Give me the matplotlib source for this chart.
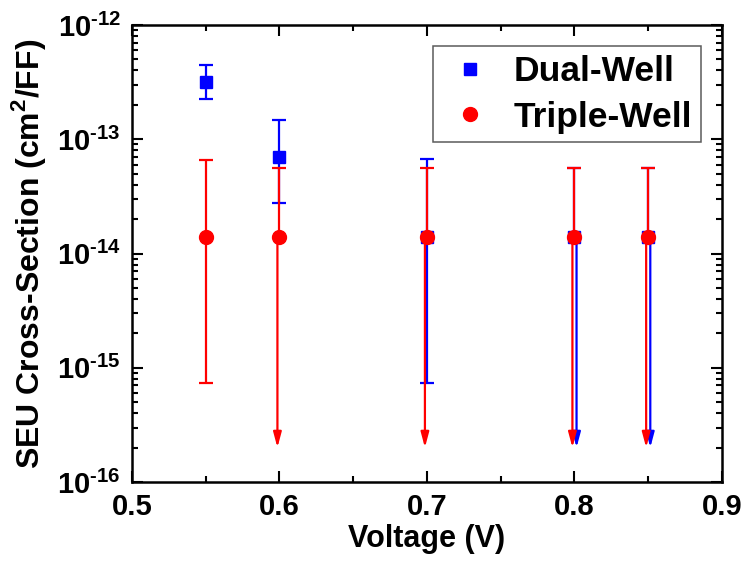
import numpy as np
import matplotlib
matplotlib.use("Agg")
from matplotlib import pyplot as plt
from matplotlib.ticker import FuncFormatter, LogLocator, MultipleLocator

plt.rcParams["font.family"] = ["Liberation Sans", "DejaVu Sans"]
plt.rcParams["font.weight"] = "bold"
plt.rcParams["mathtext.fontset"] = "custom"
plt.rcParams["mathtext.bf"] = "Liberation Sans:bold"
plt.rcParams["mathtext.rm"] = "Liberation Sans:bold"

voltage = [0.55, 0.6, 0.7, 0.8, 0.85]

# Dual-Well: value, upper bound, lower bound (None -> upper limit only, arrow)
dual_val = [3.2e-13, 7.0e-14, 1.4e-14, 1.4e-14, 1.4e-14]
dual_hi = [4.5e-13, 1.47e-13, 6.7e-14, 5.6e-14, 5.6e-14]
dual_lo = [2.25e-13, 2.75e-14, 7.4e-16, None, None]

# Triple-Well
triple_val = [1.4e-14, 1.4e-14, 1.4e-14, 1.4e-14, 1.4e-14]
triple_hi = [6.6e-14, 5.6e-14, 5.6e-14, 5.6e-14, 5.6e-14]
triple_lo = [7.4e-16, None, None, None, None]

arrow_tip = 2.0e-16

fig = plt.figure(figsize=(7.47, 5.61), dpi=100)
ax = fig.add_axes([0.1767, 0.1408, 0.7898, 0.8146])
ax.set_yscale("log")


def draw_series(x, val, hi, lo, color, marker, ms, shift, label):
    x = np.array(x)
    val = np.array(val)
    hi = np.array(hi)
    full = np.array([l is not None for l in lo])
    lo_num = np.array([l if l is not None else v for l, v in zip(lo, val)])

    # both bounds
    ax.errorbar(x[full], val[full],
                yerr=[val[full] - lo_num[full], hi[full] - val[full]],
                fmt="none", ecolor=color, elinewidth=1.6, capsize=5,
                capthick=1.6)
    # upper bound only, arrow down to the axis
    lim = ~full
    ax.errorbar(x[lim], val[lim], yerr=[np.zeros(lim.sum()), hi[lim] - val[lim]],
                fmt="none", ecolor=color, elinewidth=1.6, capsize=5,
                capthick=1.6)
    for xi, vi in zip(x[lim], val[lim]):
        ax.annotate("", xy=(xi + shift, arrow_tip), xytext=(xi + shift, vi),
                    arrowprops=dict(arrowstyle="-|>,head_length=0.6,head_width=0.16",
                                    color=color, lw=1.6, shrinkA=0, shrinkB=0,
                                    mutation_scale=15))
    ax.plot(x, val, linestyle="none", marker=marker, color=color,
            markersize=ms, label=label, zorder=3)


draw_series(voltage, dual_val, dual_hi, dual_lo, "#0000ff", "s", 8.5, 0.0014, "Dual-Well")
draw_series(voltage, triple_val, triple_hi, triple_lo, "#ff0000", "o", 10, -0.0014, "Triple-Well")

ax.set_xlim(0.5, 0.9)
ax.set_ylim(1e-16, 1e-12)
ax.xaxis.set_major_locator(MultipleLocator(0.1))
ax.xaxis.set_minor_locator(MultipleLocator(0.05))
ax.yaxis.set_major_locator(LogLocator(base=10, numticks=10))
ax.yaxis.set_minor_locator(LogLocator(base=10, subs=np.arange(2, 10), numticks=20))
ax.xaxis.set_major_formatter(FuncFormatter(lambda v, p: f"{v:.1f}"))
ax.yaxis.set_major_formatter(
    FuncFormatter(lambda v, p: r"$\mathbf{10^{\text{-}%d}}$" % -int(round(np.log10(v)))))

ax.tick_params(which="both", direction="in", top=True, right=True,
               labelsize=21, width=1.5)
ax.tick_params(which="major", length=8, pad=8)
ax.tick_params(which="minor", length=4)
for sp in ax.spines.values():
    sp.set_linewidth(1.8)

ax.set_xlabel("Voltage (V)", fontsize=22, fontweight="bold", labelpad=2)
ax.set_ylabel("SEU Cross-Section (cm$^\\mathbf{2}$/FF)", fontsize=23,
              fontweight="bold")
ax.yaxis.set_label_coords(-0.142, 0.5)

leg = ax.legend(loc="upper right", fontsize=25.5, frameon=True, fancybox=False,
                edgecolor="#333333", borderaxespad=0.6, handlelength=1.6,
                handletextpad=0.42, labelspacing=0.35, borderpad=0.25)
leg.get_frame().set_linewidth(1.1)

fig.savefig("out.png", dpi=100)
